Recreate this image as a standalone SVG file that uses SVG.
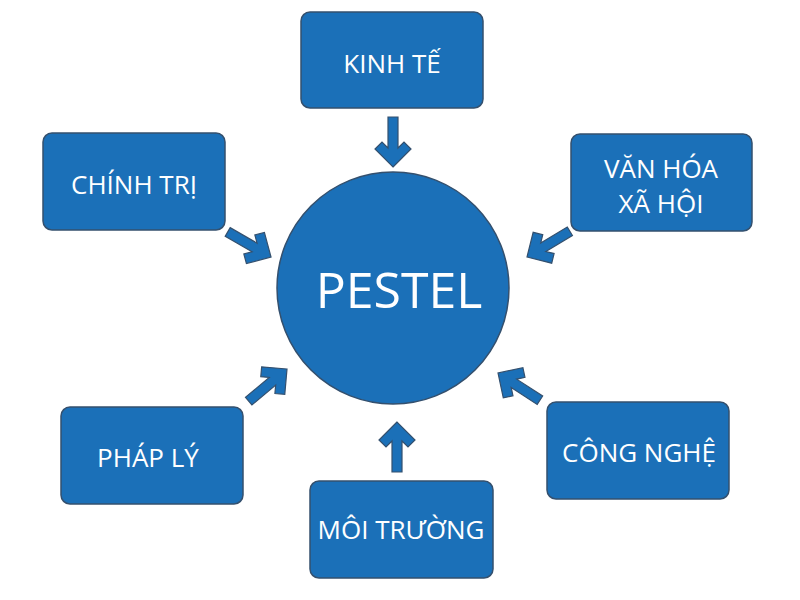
<svg xmlns="http://www.w3.org/2000/svg" xmlns:xlink="http://www.w3.org/1999/xlink" width="800" height="600" viewBox="0 0 800 600">
<style>
.box{fill:#1b70b8;stroke:#34506e;stroke-width:1.5}
.lbl{font-family:"Open Sans","Noto Sans","DejaVu Sans",sans-serif;font-size:26px;fill:#ffffff;text-anchor:middle}
.big{font-size:50px}
.arr{fill:#1b70b8;stroke:#34506e;stroke-width:1.2;stroke-linejoin:miter}
</style>
<defs>
<polygon id="arrow" points="0,0 -18,-18 -25,-11 -19,-5 -50,-5 -50,5 -19,5 -25,11 -18,18"/>
</defs>
<rect width="800" height="600" fill="#ffffff"/>
<g id="connectors">
<use xlink:href="#arrow" class="arr" transform="translate(393,167) rotate(90)"/>
<use xlink:href="#arrow" class="arr" transform="translate(397,422) rotate(-90)"/>
<use xlink:href="#arrow" class="arr" transform="translate(271,257) rotate(30)"/>
<use xlink:href="#arrow" class="arr" transform="translate(527,257) rotate(149)"/>
<use xlink:href="#arrow" class="arr" transform="translate(287,369) rotate(-40)"/>
<use xlink:href="#arrow" class="arr" transform="translate(498,373) rotate(-147)"/>
</g>
<g id="pestel">
<circle class="box" cx="393" cy="288" r="116"/>
<text class="lbl big" x="399" y="308">PESTEL</text>
</g>
<g id="kinh-te">
<rect class="box" x="301" y="12" width="182" height="96" rx="9"/>
<text class="lbl" x="392" y="73">KINH TẾ</text>
</g>
<g id="chinh-tri">
<rect class="box" x="43" y="133" width="182" height="97" rx="9"/>
<text class="lbl" x="134" y="194">CHÍNH TRỊ</text>
</g>
<g id="van-hoa-xa-hoi">
<rect class="box" x="571" y="134" width="181" height="97" rx="9"/>
<text class="lbl" x="661" y="178">VĂN HÓA</text>
<text class="lbl" x="661" y="213">XÃ HỘI</text>
</g>
<g id="phap-ly">
<rect class="box" x="61" y="407" width="182" height="97" rx="9"/>
<text class="lbl" x="148" y="467">PHÁP LÝ</text>
</g>
<g id="cong-nghe">
<rect class="box" x="547" y="402" width="182" height="97" rx="9"/>
<text class="lbl" x="639" y="462">CÔNG NGHỆ</text>
</g>
<g id="moi-truong">
<rect class="box" x="310" y="481" width="183" height="97" rx="9"/>
<text class="lbl" x="401" y="539">MÔI TRƯỜNG</text>
</g>
</svg>
